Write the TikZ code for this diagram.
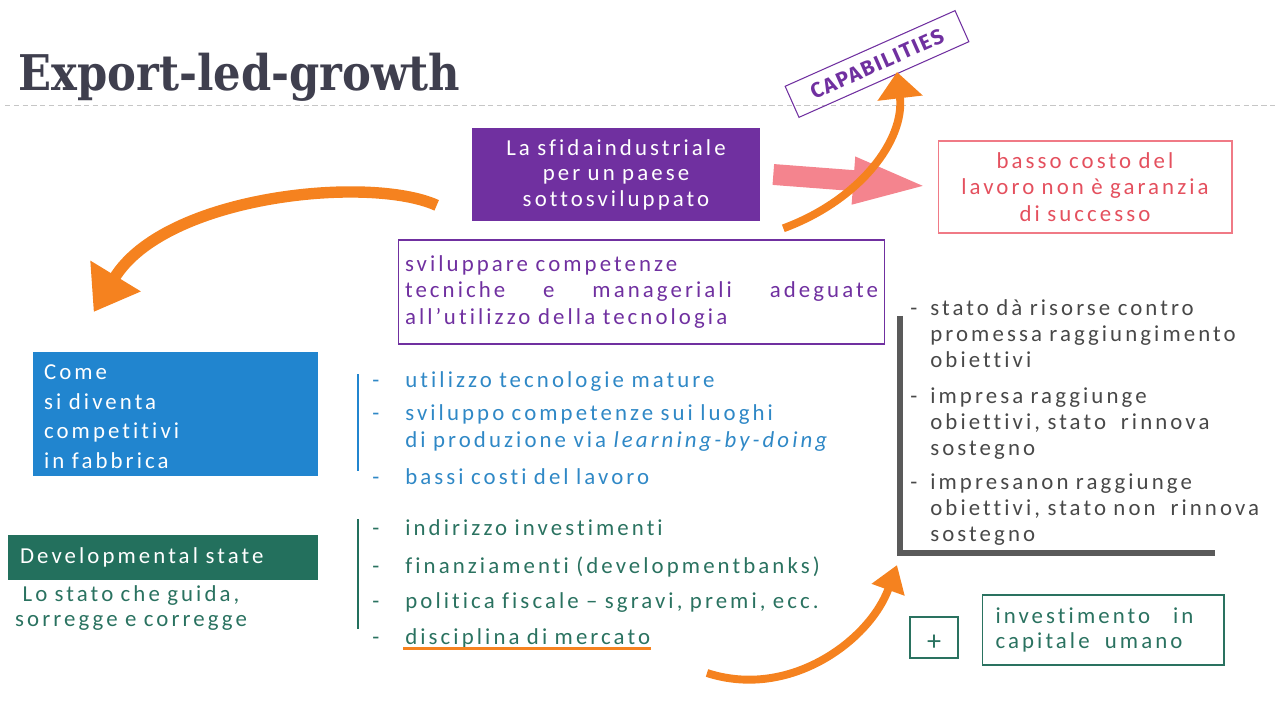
\documentclass[tikz,border=0pt]{standalone}
\usepackage{fontspec}
\usepackage{graphicx}
\usetikzlibrary{arrows.meta,positioning}
\setmainfont{Carlito}[LetterSpace=13.5, WordSpace=0.9, Ligatures=NoCommon]
\newfontfamily\titolofont{DejaVu Serif}
\newfontfamily\capsfont{Fira Sans}[LetterSpace=8]
\definecolor{viola}{HTML}{7030A0}
\definecolor{rosa}{HTML}{F4848E}
\definecolor{rosso}{HTML}{E4505E}
\definecolor{rossobordo}{HTML}{F07A86}
\definecolor{blu}{HTML}{2185CF}
\definecolor{blutesto}{HTML}{2F88C6}
\definecolor{verde}{HTML}{23705D}
\definecolor{verdetesto}{HTML}{2A7260}
\definecolor{grigio}{HTML}{484848}
\definecolor{grigiobarra}{HTML}{5A5A5A}
\definecolor{arancio}{HTML}{F5821F}
\definecolor{titolo}{HTML}{3F3F4E}
\newcommand{\voce}[1]{\makebox[0.66cm][l]{-}#1}
\newcommand{\vocegr}[1]{\makebox[0.40cm][l]{-}#1}
\tikzset{
    every node/.style={inner sep=0pt, font=\fontsize{13}{14.7}\selectfont},
    sfida/.style={
                fill=viola,
                text=white,
                align=center,
                minimum width=5.76cm,
                minimum height=1.86cm,
                font=\fontsize{13}{14.5}\selectfont
            },
        costo/.style={
                draw=rossobordo,
                line width=0.6pt,
                text=rosso,
                align=center,
                minimum width=5.88cm,
                minimum height=1.84cm,
                font=\fontsize{13}{15}\selectfont
            },
        caps/.style={
                draw=viola,
                line width=0.6pt,
                text=viola,
                minimum width=3.72cm,
                minimum height=0.68cm,
                font=\fontsize{12}{12}\capsfont\bfseries
            },
        competenze/.style={
                draw=viola,
                line width=0.6pt,
                text=viola,
                align=left,
                text width=9.46cm,
                inner xsep=0.14cm,
                minimum height=2.08cm,
                font=\fontsize{13}{15.3}\selectfont
            },
        come/.style={
                fill=blu,
                text=white,
                align=left,
                text width=5.26cm,
                inner xsep=0.22cm,
                inner ysep=0.15cm,
                minimum height=2.4cm,
                font=\fontsize{13}{17}\selectfont
            },
        devstate/.style={
                fill=verde,
                text=white,
                align=left,
                text width=5.72cm,
                inner xsep=0.24cm,
                minimum height=0.9cm
            },
        vocelista/.style={anchor=base west, align=left},
        barra/.style={line width=1.7pt},
        freccia/.style={
                draw=arancio,
                line width=4.5pt,
                -{Triangle[length=15pt,width=25pt]}
            },
        capitale/.style={draw=verdetesto, line width=0.6pt, text=verdetesto},
}
\begin{document}
\begin{tikzpicture}[x=0.02cm, y=-0.02cm]
  \useasboundingbox (0,0) rectangle (1277,702);
  % Title
  \node[anchor=base west, text=titolo] (titolo) at (18,91)
    {\scalebox{0.88}[1]{\fontsize{28}{30}\titolofont\bfseries Export-led-growth}};
  \draw[gray!45, dash pattern=on 3pt off 2pt] (5,105) -- (1277,105);
  % Challenge and the two outcomes
  \node[sfida] (sfida) at (616,174.5) {La sfidaindustriale\\per un paese\\sottosviluppato};
  \node[costo] (costo) at (1085,187) {basso costo del\\lavoro non è garanzia\\di successo};
  \node[caps, rotate=24] (caps) at (877,64) {CAPABILITIES};
  \draw[draw=rosa, line width=11.9pt, -{Triangle[length=45pt,width=23.2pt]}, shorten >=3pt]
    ([xshift=0.26cm]sfida.east) -- (costo.west);
  \coordinate (codacaps) at ([xshift=0.46cm, yshift=-0.14cm]sfida.south east);
  \coordinate (puntacaps) at (897,72);
  \draw[freccia] (codacaps) .. controls (860,200) and (905,140) .. (puntacaps);
  \node[competenze] (comp) at (641.5,292)
    {sviluppare competenze\\
     \makebox[9.46cm][s]{tecniche\hfill e\hfill manageriali\hfill adeguate}\\
     all’utilizzo della tecnologia};
  % Left column
  \node[come, anchor=north] (come) at (175.5,352)
    {\rule{0pt}{11pt}Come\\si diventa\\competitivi\\in fabbrica};
  \coordinate (codasx) at ([xshift=-0.7cm, yshift=0.32cm]sfida.south west);
  \coordinate (puntasx) at ([xshift=1.22cm, yshift=0.8cm]come.north west);
  \draw[freccia, line width=6.5pt, -{Triangle[length=24pt,width=32pt]}]
    (codasx) .. controls (370,175) and (165,195) .. (puntasx);
  \node[devstate] (dev) at (163,557.5) {Developmental state};
  \node[align=center, text=verdetesto] (guida) at (131,608) {Lo stato che guida,\\sorregge e corregge};
  % Blue list
  \draw[barra, blu] (358,374) -- (358,471);
  \node[vocelista, text=blutesto] (bl1) at (372,387) {\voce{utilizzo tecnologie mature}};
  \node[vocelista, text=blutesto, font=\fontsize{13}{15.3}\selectfont] (bl2) at (372,447)
    {\voce{sviluppo competenze sui luoghi}\\\hspace*{0.66cm}di produzione via \textit{learning-by-doing}};
  \node[vocelista, text=blutesto] (bl3) at (372,484) {\voce{bassi costi del lavoro}};
  % Green list
  \draw[barra, verde] (358,519) -- (358,629);
  \node[vocelista, text=verdetesto] (gl1) at (372,535) {\voce{indirizzo investimenti}};
  \node[vocelista, text=verdetesto] (gl2) at (372,573) {\voce{finanziamenti (developmentbanks)}};
  \node[vocelista, text=verdetesto] (gl3) at (372,608) {\voce{politica fiscale – sgravi, premi, ecc.}};
  \node[vocelista, text=verdetesto] (gl4) at (372,644) {\voce{disciplina di mercato}};
  \draw[arancio, line width=1.2pt] ([xshift=0.62cm, yshift=-0.09cm]gl4.base west) -- ([yshift=-0.09cm]gl4.base east);
  % Gray bracket
  \coordinate (brangolo) at (900,553);
  \draw[grigiobarra, line width=3.4pt] (900,316) -- (brangolo) -- (1215,553);
  \node[vocelista, text=grigio] (gr1) at (910,367)
    {\vocegr{stato dà risorse contro}\\\hspace*{0.40cm}promessa raggiungimento\\\hspace*{0.40cm}obiettivi};
  \node[vocelista, text=grigio] (gr2) at (910,455)
    {\vocegr{impresa raggiunge}\\\hspace*{0.40cm}obiettivi, stato\ \ rinnova\\\hspace*{0.40cm}sostegno};
  \node[vocelista, text=grigio] (gr3) at (910,541)
    {\vocegr{impresanon raggiunge}\\\hspace*{0.40cm}obiettivi, stato non\ \ rinnova\\\hspace*{0.40cm}sostegno};
  \coordinate (codagiu) at (707,673);
  \draw[freccia, line width=4.5pt, -{Triangle[length=15pt,width=19pt]}]
    (codagiu) .. controls (790,700) and (870,640) .. ([xshift=-0.06cm, yshift=-0.24cm]brangolo);
  % Human capital
  \node[capitale, minimum width=0.96cm, minimum height=0.82cm, text depth=0pt] (piu) at (934,637.5)
    {\raisebox{-6pt}{\fontsize{16}{16}\selectfont +}};
  \node[capitale, align=left, text width=4.3cm, inner xsep=0.27cm, minimum height=1.4cm,
    right=0.46cm of piu.east, yshift=0.15cm] (umano)
    {investimento\ \ \ in\\capitale\ \ umano\\[8pt]};
\end{tikzpicture}
\end{document}
